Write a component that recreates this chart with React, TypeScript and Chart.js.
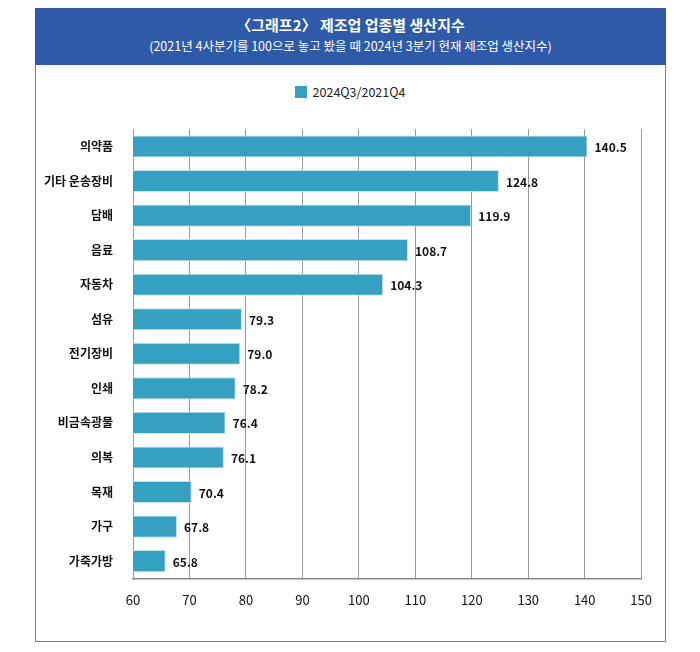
import React, { useEffect, useRef } from "react";
import { Chart, registerables } from "chart.js";
Chart.register(...registerables);

const categories = ["의약품", "기타 운송장비", "담배", "음료", "자동차", "섬유", "전기장비", "인쇄", "비금속광물", "의복", "목재", "가구", "가죽가방"];
const values = [140.5, 124.8, 119.9, 108.7, 104.3, 79.3, 79.0, 78.2, 76.4, 76.1, 70.4, 67.8, 65.8];
const seriesName = "2024Q3/2021Q4";
const xTicks = [60, 70, 80, 90, 100, 110, 120, 130, 140, 150];

const FONT = "'Noto Sans CJK KR', 'Noto Sans', sans-serif";

const labelPlugin = {
  id: "barLabels",
  afterDatasetsDraw(chart: any) {
    const ctx = chart.ctx;
    const meta = chart.getDatasetMeta(0);
    ctx.save();
    ctx.font = `bold 12px ${FONT}`;
    ctx.fillStyle = "#111";
    ctx.textBaseline = "middle";
    meta.data.forEach((bar: any, i: number) => {
      ctx.fillText(values[i].toFixed(1), bar.x + 7, bar.y + 1);
    });
    ctx.restore();
  },
};

export default function App() {
  const ref = useRef<HTMLCanvasElement>(null);
  useEffect(() => {
    const chart = new Chart(ref.current!, {
      type: "bar",
      data: {
        labels: categories,
        datasets: [{
          label: seriesName,
          data: values,
          backgroundColor: "#36a0c2",
          borderColor: "#bfe3ef",
          borderWidth: 1,
          categoryPercentage: 0.64,
          barPercentage: 1,
        }],
      },
      options: {
        indexAxis: "y",
        animation: false,
        responsive: false,
        layout: { padding: { top: 13, right: 23, bottom: 8, left: 0 } },
        plugins: { legend: { display: false }, tooltip: { enabled: false } },
        scales: {
          x: {
            min: 60, max: 150,
            afterBuildTicks: (s: any) => { s.ticks = xTicks.map((v) => ({ value: v })); },
            grid: { color: "#9a9a9a", lineWidth: 1, drawTicks: false },
            border: { color: "#888", width: 1.5 },
            ticks: { color: "#111", font: { family: FONT, size: 13 }, padding: 14 },
          },
          y: {
            afterFit: (s: any) => { s.width = 97; },
            grid: { display: false },
            border: { display: false },
            ticks: { color: "#111", font: { family: FONT, size: 12, weight: "bold" }, padding: 12 },
          },
        },
      },
      plugins: [labelPlugin],
    });
    return () => chart.destroy();
  }, []);

  return (
    <div style={{ position: "relative", width: 700, height: 652, margin: -8, background: "#fff", fontFamily: FONT }}>
      <div style={{ position: "absolute", left: 35, top: 8, width: 631, height: 634, border: "1.5px solid #4a82d6", boxSizing: "border-box" }} />
      <div style={{ position: "absolute", left: 35, top: 8, width: 631, height: 57, background: "#2e5aa8", color: "#fff", textAlign: "center" }}>
        <div style={{ fontSize: 15, fontWeight: "bold", marginTop: 7, lineHeight: "20px" }}>〈그래프2〉 제조업 업종별 생산지수</div>
        <div style={{ fontSize: 12.5, lineHeight: "18px", marginTop: 2 }}>(2021년 4사분기를 100으로 놓고 봤을 때 2024년 3분기 현재 제조업 생산지수)</div>
      </div>
      <div style={{ position: "absolute", left: 0, width: 700, top: 82, textAlign: "center", fontSize: 12.5, color: "#222" }}>
        <span style={{ display: "inline-block", width: 12, height: 12, background: "#36a0c2", verticalAlign: "-1px", marginRight: 6 }} />
        {seriesName}
      </div>
      <canvas ref={ref} width={630} height={520} style={{ position: "absolute", left: 36, top: 110 }} />
    </div>
  );
}
